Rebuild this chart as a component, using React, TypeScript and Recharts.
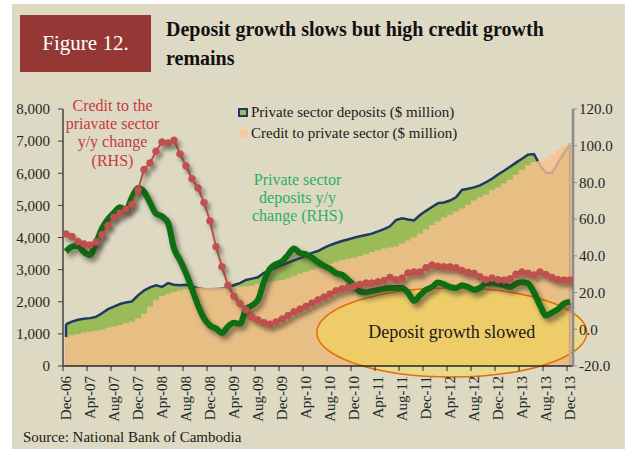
import { Area, ComposedChart, Line, ReferenceArea, ReferenceLine, XAxis, YAxis } from "recharts";

const FONT = '"Liberation Serif", "DejaVu Serif", serif';

// x-axis labels, one every four months (Dec-06 .. Dec-13)
const tickLabels = [
  "Dec-06", "Apr-07", "Aug-07", "Dec-07", "Apr-08", "Aug-08", "Dec-08", "Apr-09", "Aug-09", "Dec-09", "Apr-10",
  "Aug-10", "Dec-10", "Apr-11", "Aug-11", "Dec-11", "Apr-12", "Aug-12", "Dec-12", "Apr-13", "Aug-13", "Dec-13",
];

// monthly, Dec-06 .. Dec-13, $ million
const deposits = [
  1300, 1380, 1440, 1470, 1490, 1530, 1640, 1770, 1850, 1930, 1980, 2010,
  2200, 2350, 2450, 2510, 2460, 2580, 2530, 2510, 2530, 2480, 2420, 2400,
  2390, 2400, 2410, 2440, 2520, 2580, 2680, 2720, 2760, 2900, 2980, 3060,
  3140, 3220, 3290, 3360, 3430, 3520, 3580, 3680, 3760, 3830, 3890, 3940,
  3990, 4040, 4080, 4120, 4190, 4260, 4350, 4540, 4600, 4560, 4530, 4700,
  4830, 4950, 5070, 5090, 5150, 5250, 5480, 5520, 5560, 5620, 5720, 5830,
  5960, 6080, 6200, 6330, 6450, 6580, 6600, 6250, 6010, 6010, 6320, 6630, 6880,
];

const credit = [
  900, 960, 1000, 1040, 1070, 1100, 1130, 1190, 1230, 1280, 1330, 1380,
  1480, 1620, 1850, 2050, 2180, 2250, 2300, 2350, 2390, 2420, 2440, 2440,
  2440, 2440, 2440, 2450, 2460, 2470, 2480, 2500, 2560, 2590, 2620, 2650,
  2680, 2720, 2790, 2870, 2930, 2990, 3050, 3100, 3180, 3240, 3300, 3340,
  3370, 3420, 3480, 3550, 3600, 3660, 3690, 3720, 3810, 3910, 4000, 4120,
  4250, 4390, 4500, 4620, 4710, 4800, 4900, 5020, 5150, 5250, 5340, 5480,
  5560, 5680, 5800, 5950, 6110, 6250, 6350, 6380, 6460, 6580, 6720, 6860, 6940,
];

// y/y change, %
const creditYoY = [
  51.9, 50.5, 47.7, 46.5, 45.9, 47.5, 51.5, 56.5, 61, 63.3, 65.5, 68,
  75.9, 87, 90.6, 97, 102, 101.5, 103, 95.5, 89, 82, 77, 69,
  59, 45, 34, 24, 18, 14, 10.5, 6.7, 5.1, 3.6, 2.8, 4,
  5.6, 7.5, 9.5, 11, 12.5, 14.3, 16, 17.5, 19.2, 21, 22, 22.8,
  23.5, 24.5, 25.2, 25.2, 25.8, 26.6, 28.3, 26.9, 27.9, 30.7, 31.2, 31.2,
  33.5, 35, 34.3, 34, 34, 33.5, 32, 31, 30.5, 28.5, 27, 27.9,
  27, 26.8, 27.5, 30, 31.2, 30.5, 29.6, 31.2, 29.8, 28.2, 27, 26.8, 26.8,
];

const depositsYoY = [
  42.3, 45, 45.5, 42, 40.5, 47, 55, 60, 63.5, 66.5, 65, 72,
  77, 75, 69, 63, 61.5, 58, 44, 37.7, 30.5, 22, 13, 6,
  2, 0.5, -2, 1.5, 3.5, 3, 11, 13, 16, 26, 33, 35.5,
  37, 40.5, 44, 41.5, 40.8, 39, 36.5, 34.5, 33, 30.5, 29.7, 27,
  24, 20.5, 20, 20.8, 21.4, 22, 22.5, 22.5, 22.5, 20, 15.5, 18.5,
  21.5, 23, 25.5, 24.5, 23, 22.5, 24, 23, 21.5, 22.5, 25, 25.2,
  24.8, 24, 23, 24.8, 25.6, 25, 20, 13, 7.5, 9, 11, 14, 15,
];

const leftTicks = [0, 1000, 2000, 3000, 4000, 5000, 6000, 7000, 8000];
const rightTicks = [-20, 0, 20, 40, 60, 80, 100, 120];

const rows = deposits.map((dep, i) => ({ i, dep, cr: credit[i], crY: creditYoY[i], depY: depositsYoY[i] }));
// tick marks sit between months, labels on the month itself
const edgeTicks = tickLabels.map((_, k) => k * 4 - 0.5);
const last = rows.length - 1;

const GREEN = "#0E6E12";
const RED = "#C0504D";

function MonthTick({ x, y, payload }: any) {
  const label = tickLabels[(payload.value + 0.5) / 4];
  return (
    <g transform={`translate(${x + 3},${y})`}>
      <text transform="rotate(-90)" textAnchor="end" dominantBaseline="central" fontSize={15} fontFamily={FONT} fill="#262626">
        {label}
      </text>
    </g>
  );
}

function SlowedEllipse({ x, y, width, height }: any) {
  const cx = x + width / 2;
  const cy = y + height / 2;
  return (
    <g>
      <ellipse cx={cx} cy={cy} rx={width / 2} ry={height / 2} fill="#F6DC45" fillOpacity={0.45} stroke="#E46C0A" strokeWidth={1.5} />
      <text x={cx} y={cy} textAnchor="middle" dominantBaseline="central" fontSize={18} fontFamily={FONT} fill="#1a1a1a">
        Deposit growth slowed
      </text>
    </g>
  );
}

const tickText = { fontSize: 15, fontFamily: FONT, fill: "#262626" };

export default function App() {
  return (
    <div style={{ position: "absolute", left: 0, top: 0, width: 634, height: 449, fontFamily: FONT }}>
      <div style={{ position: "absolute", left: 12, top: 4, width: 613, height: 445, background: "#DDD9C3" }} />

      <div
        style={{
          position: "absolute", left: 20, top: 15, width: 131, height: 57, background: "#953735", color: "#fff",
          fontSize: 21, display: "flex", alignItems: "center", justifyContent: "center",
        }}
      >
        Figure 12.
      </div>
      <div style={{ position: "absolute", left: 166, top: 15, width: 440, fontSize: 20, fontWeight: "bold", lineHeight: "29px", color: "#111" }}>
        Deposit growth slows but high credit growth
        <br />
        remains
      </div>

      <div style={{ position: "absolute", left: 0, top: 0 }}>
        <ComposedChart width={634} height={449} data={rows} margin={{ top: 109, right: 0, bottom: 0, left: 0 }}>
          <XAxis
            dataKey="i"
            type="number"
            domain={[-0.5, 84.5]}
            ticks={edgeTicks}
            interval={0}
            height={83}
            tickSize={5}
            tickMargin={5}
            tick={<MonthTick />}
            axisLine={{ stroke: "#262626", strokeWidth: 1.5 }}
            tickLine={{ stroke: "#262626" }}
            allowDataOverflow
          />
          <YAxis
            yAxisId="left"
            width={63}
            domain={[0, 8000]}
            ticks={leftTicks}
            interval={0}
            tickSize={5}
            tickMargin={8}
            tick={tickText}
            tickFormatter={(v: number) => v.toLocaleString("en-US")}
            axisLine={{ stroke: "#404040", strokeWidth: 1.5 }}
            tickLine={{ stroke: "#404040" }}
          />
          <YAxis
            yAxisId="right"
            orientation="right"
            width={61}
            domain={[-20, 120]}
            ticks={rightTicks}
            interval={0}
            tickSize={4}
            tickMargin={2}
            tick={tickText}
            tickFormatter={(v: number) => v.toFixed(1)}
            axisLine={{ stroke: "#8C8C8C", strokeWidth: 2.5 }}
            tickLine={{ stroke: "#8C8C8C" }}
          />

          <Area
            yAxisId="left"
            dataKey="dep"
            type="linear"
            fill="#9BBB59"
            fillOpacity={1}
            stroke="#1F3864"
            strokeWidth={2.5}
            isAnimationActive={false}
          />
          <Area
            yAxisId="left"
            dataKey="cr"
            type="step"
            fill="#FAC090"
            fillOpacity={0.8}
            stroke="none"
            isAnimationActive={false}
          />
          <ReferenceLine
            yAxisId="left"
            segment={[{ x: 0, y: credit[0] }, { x: 0, y: deposits[0] }]}
            stroke="#1F3864"
            strokeWidth={2.5}
          />
          <ReferenceLine
            yAxisId="left"
            segment={[{ x: 0, y: 0 }, { x: 0, y: credit[0] }]}
            stroke="#E9B98E"
            strokeWidth={2.5}
          />
          <ReferenceLine
            yAxisId="left"
            segment={[{ x: last, y: 0 }, { x: last, y: credit[last] }]}
            stroke="#D6A886"
            strokeWidth={2.5}
          />

          <Line
            yAxisId="right"
            dataKey="depY"
            type="monotone"
            stroke={GREEN}
            strokeWidth={6}
            strokeLinejoin="round"
            dot={false}
            isAnimationActive={false}
          />
          <Line
            yAxisId="right"
            dataKey="crY"
            type="linear"
            stroke={RED}
            strokeWidth={2}
            dot={{ r: 3.3, fill: RED, stroke: RED, strokeWidth: 1 }}
            isAnimationActive={false}
          />
          <ReferenceArea
            yAxisId="right"
            x1={41.8}
            x2={86.8}
            y1={-26}
            y2={22.5}
            ifOverflow="visible"
            shape={<SlowedEllipse />}
          />
        </ComposedChart>
      </div>

      <div style={{ position: "absolute", left: 238, top: 102, fontSize: 15, lineHeight: "20.5px", color: "#1a1a1a", whiteSpace: "nowrap" }}>
        <div style={{ display: "flex", alignItems: "center" }}>
          <span style={{ display: "inline-block", width: 6, height: 5, background: "#9BBB59", border: "2px solid #1F3864", marginRight: 3 }} />
          Private sector deposits ($ million)
        </div>
        <div style={{ display: "flex", alignItems: "center" }}>
          <span style={{ display: "inline-block", width: 8, height: 8, background: "#F8C89C", margin: "0 3px 0 2px" }} />
          Credit to private sector ($ million)
        </div>
      </div>

      <div style={{ position: "absolute", left: 52, top: 97, width: 121, textAlign: "center", fontSize: 16, lineHeight: "18.2px", color: "#C63B3B" }}>
        Credit to the
        <br />
        priavate sector
        <br />
        y/y change
        <br />
        (RHS)
      </div>
      <div style={{ position: "absolute", left: 237, top: 171, width: 121, textAlign: "center", fontSize: 16, lineHeight: "18px", color: "#2DAF62" }}>
        Private sector
        <br />
        deposits y/y
        <br />
        change (RHS)
      </div>

      <div style={{ position: "absolute", left: 23, top: 427, fontSize: 15, lineHeight: "20px", color: "#1a1a1a" }}>
        Source: National Bank of Cambodia
      </div>
      <style>{`
        path[stroke="${GREEN}"] { filter: drop-shadow(3px 4px 2.5px rgba(60,50,40,0.6)); }
        path[stroke="${RED}"], circle[fill="${RED}"] { filter: drop-shadow(3px 4px 2px rgba(60,50,40,0.45)); }
      `}</style>
    </div>
  );
}
